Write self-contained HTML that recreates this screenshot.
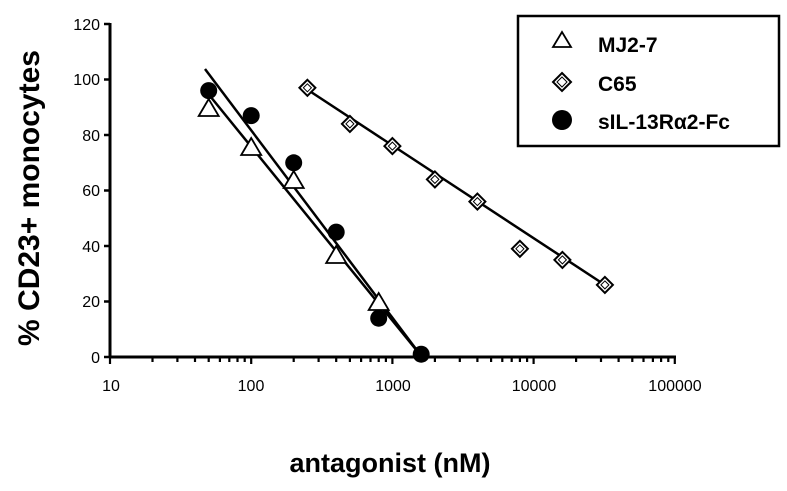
<!DOCTYPE html>
<html><head><style>body{margin:0;background:#fff}svg{display:block}</style></head><body>
<svg width="787" height="491" xmlns="http://www.w3.org/2000/svg" font-family="Liberation Sans, Arial, sans-serif">
<rect width="787" height="491" fill="#fff"/>
<g stroke="#000" stroke-width="3" fill="none">
<line x1="110" y1="23" x2="110" y2="358"/>
<line x1="109" y1="357" x2="676" y2="357"/>
</g>
<g stroke="#000" stroke-width="2.5">
<line x1="104" y1="24" x2="110" y2="24"/><line x1="104" y1="79.5" x2="110" y2="79.5"/>
<line x1="104" y1="135" x2="110" y2="135"/><line x1="104" y1="190.5" x2="110" y2="190.5"/>
<line x1="104" y1="246" x2="110" y2="246"/><line x1="104" y1="301.5" x2="110" y2="301.5"/>
<line x1="104" y1="357" x2="110" y2="357"/>
</g>
<path stroke="#000" stroke-width="2.2" fill="none" d="
M110,356V364 M152.5,356V362 M177.4,356V362 M195,356V362 M208.7,356V362 M219.9,356V362 M229.3,356V362 M237.5,356V362 M244.7,356V362
M251.2,356V364 M293.7,356V362 M318.6,356V362 M336.2,356V362 M349.9,356V362 M361.1,356V362 M370.5,356V362 M378.7,356V362 M385.9,356V362
M392.4,356V364 M434.9,356V362 M459.8,356V362 M477.4,356V362 M491.1,356V362 M502.3,356V362 M511.7,356V362 M519.9,356V362 M527.1,356V362
M533.6,356V364 M576.1,356V362 M601,356V362 M618.6,356V362 M632.3,356V362 M643.5,356V362 M652.9,356V362 M661.1,356V362 M668.3,356V362
M674.8,356V364"/>
<g font-size="16" text-anchor="end" fill="#000">
<text x="100" y="30">120</text><text x="100" y="85">100</text><text x="100" y="141">80</text>
<text x="100" y="196">60</text><text x="100" y="252">40</text><text x="100" y="307">20</text><text x="100" y="363">0</text>
</g>
<g font-size="16" text-anchor="middle" fill="#000">
<text x="111" y="391">10</text><text x="251" y="391">100</text><text x="393" y="391">1000</text>
<text x="534" y="391">10000</text><text x="675" y="391">100000</text>
</g>
<text x="390" y="472" font-size="27" font-weight="bold" text-anchor="middle">antagonist (nM)</text>
<text transform="translate(39,198) rotate(-90)" font-size="30" font-weight="bold" text-anchor="middle">% CD23+ monocytes</text>
<g stroke="#000" stroke-width="2.5" fill="none">
<line x1="205" y1="69" x2="422" y2="357"/>
<line x1="210" y1="96" x2="422" y2="357"/>
<line x1="308" y1="90" x2="608" y2="287"/>
</g>
<g fill="#000">
<circle cx="208.7" cy="90.6" r="8.5"/><circle cx="251.2" cy="115.6" r="8.5"/><circle cx="293.7" cy="162.8" r="8.5"/>
<circle cx="336.2" cy="232.1" r="8.5"/><circle cx="378.7" cy="318.2" r="8.5"/><circle cx="421.2" cy="354.2" r="8.5"/>
</g>
<g fill="#fff" stroke="#000" stroke-width="1.8">
<polygon points="208.7,99 198.7,116 218.7,116"/>
<polygon points="251.2,138 241.2,155 261.2,155"/>
<polygon points="293.7,171 283.7,188 303.7,188"/>
<polygon points="336.2,246 326.2,263 346.2,263"/>
<polygon points="378.7,293 368.7,310 388.7,310"/>
</g>
<defs><g id="dm"><polygon points="0,-8 8,0 0,8 -8,0" fill="#fff" stroke="#000" stroke-width="2"/><polygon points="0,-4 4,0 0,4 -4,0" fill="none" stroke="#000" stroke-width="1"/></g></defs>
<use href="#dm" x="307.4" y="87.8"/><use href="#dm" x="349.9" y="123.9"/><use href="#dm" x="392.4" y="146.1"/>
<use href="#dm" x="434.9" y="179.4"/><use href="#dm" x="477.4" y="201.6"/><use href="#dm" x="519.9" y="248.8"/>
<use href="#dm" x="562.4" y="259.9"/><use href="#dm" x="604.9" y="284.9"/>
<rect x="518" y="16" width="261" height="130" fill="#fff" stroke="#000" stroke-width="2.5"/>
<polygon points="562,32 553,47 571,47" fill="#fff" stroke="#000" stroke-width="1.8"/>
<g transform="translate(562,82)"><polygon points="0,-9 9,0 0,9 -9,0" fill="#fff" stroke="#000" stroke-width="2"/><polygon points="0,-5 5,0 0,5 -5,0" fill="none" stroke="#000" stroke-width="1"/></g>
<circle cx="562" cy="120" r="10" fill="#000"/>
<g font-size="21" font-weight="bold"><text x="598" y="52">MJ2-7</text><text x="598" y="91">C65</text><text x="598" y="129">sIL-13Rα2-Fc</text></g>
</svg>
</body></html>
